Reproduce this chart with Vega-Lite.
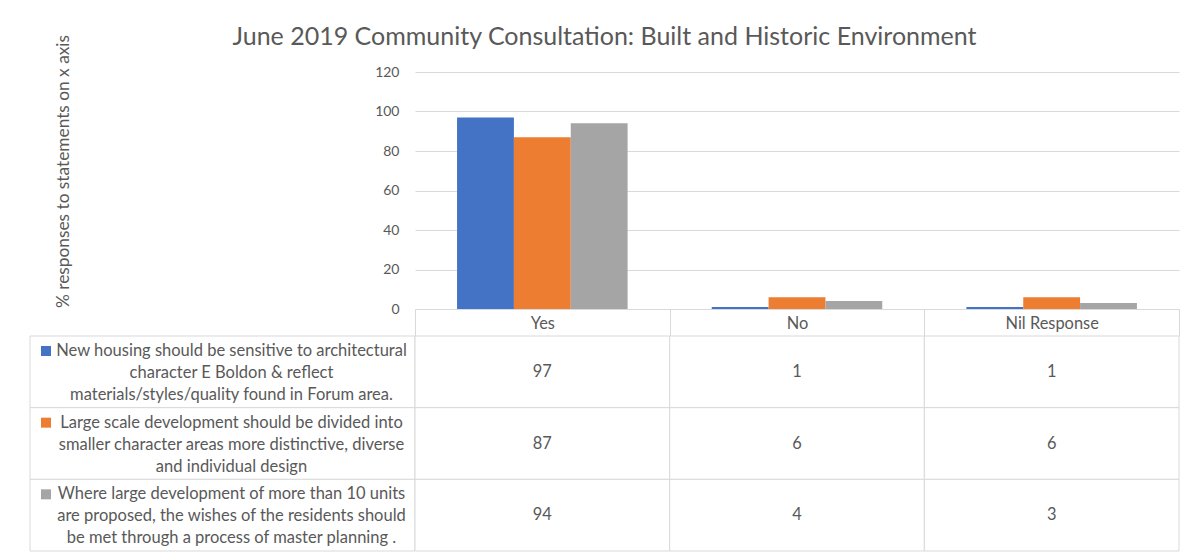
{
  "$schema": "https://vega.github.io/schema/vega-lite/v6.json",
  "background": "white",
  "padding": {"left": 29, "top": 24, "right": 16, "bottom": 4},
  "title": {
    "text": "June 2019 Community Consultation: Built and Historic Environment",
    "anchor": "middle",
    "fontSize": 25,
    "fontWeight": "normal",
    "color": "#595959",
    "offset": -15
  },
  "config": {
    "font": "Lato",
    "view": {"stroke": null},
    "axis": {"labelColor": "#595959", "titleColor": "#595959", "titleFontWeight": "normal"}
  },
  "datasets": {
    "bars": [
      {"response": "Yes", "series": "s1", "value": 97},
      {"response": "Yes", "series": "s2", "value": 87},
      {"response": "Yes", "series": "s3", "value": 94},
      {"response": "No", "series": "s1", "value": 1},
      {"response": "No", "series": "s2", "value": 6},
      {"response": "No", "series": "s3", "value": 4},
      {"response": "Nil Response", "series": "s1", "value": 1},
      {"response": "Nil Response", "series": "s2", "value": 6},
      {"response": "Nil Response", "series": "s3", "value": 3}
    ],
    "labels": [
      {"series": "s1", "label": "New housing should be sensitive to architectural\ncharacter E Boldon & reflect\nmaterials/styles/quality found in Forum area."},
      {"series": "s2", "label": "Large scale development should be divided into\nsmaller character areas more distinctive, diverse\nand individual design"},
      {"series": "s3", "label": "Where large development of more than 10 units\nare proposed, the wishes of the residents should\nbe  met through a process of master planning ."}
    ]
  },
  "columns": 2,
  "bounds": "flush",
  "spacing": {"row": 27, "column": 0},
  "concat": [
    {
      "width": 385,
      "height": 237,
      "data": {"values": [{}]},
      "mark": {"type": "text"},
      "encoding": {"text": {"value": ""}}
    },
    {
      "width": 764,
      "height": 237,
      "data": {"name": "bars"},
      "mark": {"type": "bar"},
      "encoding": {
        "x": {
          "field": "response",
          "type": "nominal",
          "sort": ["Yes", "No", "Nil Response"],
          "scale": {"paddingInner": 0, "paddingOuter": 0},
          "axis": {
            "title": null,
            "labelAngle": 0,
            "tickBand": "extent",
            "tickSize": 27,
            "tickColor": "#d9d9d9",
            "domainColor": "#d9d9d9",
            "labelPadding": -13,
            "labelBaseline": "middle",
            "labelFontSize": 16.4
          }
        },
        "xOffset": {
          "field": "series",
          "type": "nominal",
          "sort": ["s1", "s2", "s3"],
          "scale": {"paddingInner": 0, "paddingOuter": 0.74}
        },
        "y": {
          "field": "value",
          "type": "quantitative",
          "scale": {"domain": [0, 120]},
          "axis": {
            "values": [0, 20, 40, 60, 80, 100, 120],
            "title": "% responses to statements on x axis",
            "titleFontSize": 17.3,
            "titlePadding": 302,
            "titleAnchor": "middle",
            "titleY": 99,
            "domain": false,
            "ticks": false,
            "gridColor": "#d9d9d9",
            "labelPadding": 16,
            "labelFontSize": 14
          }
        },
        "color": {
          "field": "series",
          "type": "nominal",
          "scale": {"domain": ["s1", "s2", "s3"], "range": ["#4472C4", "#ED7D31", "#A5A5A5"]},
          "legend": null
        }
      }
    },
    {
      "width": 385,
      "height": 215,
      "data": {"name": "labels"},
      "encoding": {
        "y": {
          "field": "series",
          "type": "nominal",
          "sort": ["s1", "s2", "s3"],
          "scale": {"paddingInner": 0, "paddingOuter": 0},
          "axis": null
        }
      },
      "layer": [
        {"mark": {"type": "rect", "fill": "white", "stroke": "#d9d9d9"}},
        {
          "mark": {"type": "text", "lineBreak": "\n", "lineHeight": 22, "fontSize": 16.5, "dx": 9, "dy": -21, "baseline": "middle", "color": "#595959"},
          "encoding": {"text": {"field": "label"}}
        },
        {
          "mark": {"type": "square", "size": 100, "filled": true, "opacity": 1},
          "encoding": {
            "x": {"value": 16},
            "yOffset": {"value": 15},
            "color": {
              "field": "series",
              "type": "nominal",
              "scale": {"domain": ["s1", "s2", "s3"], "range": ["#4472C4", "#ED7D31", "#A5A5A5"]},
              "legend": null
            }
          }
        }
      ]
    },
    {
      "width": 764,
      "height": 215,
      "data": {"name": "bars"},
      "encoding": {
        "x": {
          "field": "response",
          "type": "nominal",
          "sort": ["Yes", "No", "Nil Response"],
          "scale": {"paddingInner": 0, "paddingOuter": 0},
          "axis": null
        },
        "y": {
          "field": "series",
          "type": "nominal",
          "sort": ["s1", "s2", "s3"],
          "scale": {"paddingInner": 0, "paddingOuter": 0},
          "axis": null
        }
      },
      "layer": [
        {"mark": {"type": "rect", "fill": "white", "stroke": "#d9d9d9"}},
        {
          "mark": {"type": "text", "fontSize": 16.4, "color": "#595959"},
          "encoding": {"text": {"field": "value", "type": "quantitative"}}
        }
      ]
    }
  ]
}
